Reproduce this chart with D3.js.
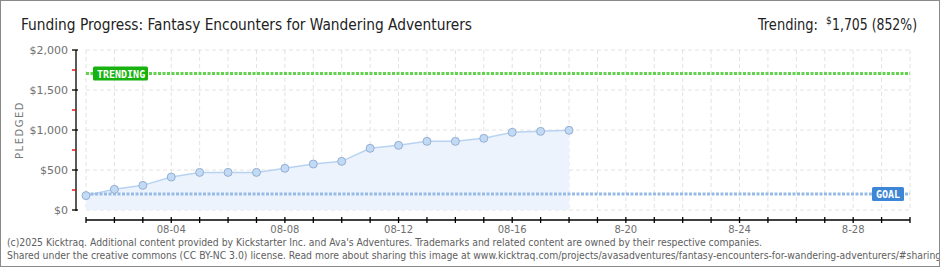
<!DOCTYPE html>
<html>
<head>
<meta charset="utf-8">
<script src="https://cdn.jsdelivr.net/npm/d3@7"></script>
<style>
  body { margin: 0; background: #fff; }
  svg { display: block; }
</style>
</head>
<body>
<div id="chart"></div>
<script>
// Daily pledged totals, 08-01 .. 08-18
const dates = ['2025-08-01', '2025-08-02', '2025-08-03', '2025-08-04', '2025-08-05', '2025-08-06',
    '2025-08-07', '2025-08-08', '2025-08-09', '2025-08-10', '2025-08-11', '2025-08-12',
    '2025-08-13', '2025-08-14', '2025-08-15', '2025-08-16', '2025-08-17', '2025-08-18'];
const pledged = [180, 258, 308, 412, 470, 470, 470, 521, 575, 608, 771, 808, 858, 858, 896, 971, 983, 996];
const goal = 200;
const trending = 1705;
const trendingPct = 852;
const yTicks = [0, 500, 1000, 1500, 2000];
const yMinorTicks = [250, 750, 1250, 1750];
const xLabelDates = ['2025-08-04', '2025-08-08', '2025-08-12', '2025-08-16', '2025-08-20', '2025-08-24', '2025-08-28'];
const xLabels = ['08-04', '08-08', '08-12', '08-16', '8-20', '8-24', '8-28'];
const title = 'Funding Progress: Fantasy Encounters for Wandering Adventurers';
const footer = [
    '(c)2025 Kicktraq. Additional content provided by Kickstarter Inc. and Ava\'s Adventures. Trademarks and related content are owned by their respective companies.',
    'Shared under the creative commons (CC BY-NC 3.0) license. Read more about sharing this image at www.kicktraq.com/projects/avasadventures/fantasy-encounters-for-wandering-adventurers/#sharing'
];

const width = 940, height = 270;
const parse = d3.timeParse('%Y-%m-%d');
const data = dates.map((d, i) => ({ date: parse(d), value: pledged[i] }));

const svg = d3.select('#chart').append('svg')
    .attr('width', width)
    .attr('height', height);

svg.append('clipPath').attr('id', 'frame-clip')
    .append('rect').attr('x', 1).attr('y', 1).attr('width', width - 2).attr('height', 265);

// frame
svg.append('rect')
    .attr('x', 0.5).attr('y', 0.5)
    .attr('width', width - 1).attr('height', 266)
    .attr('fill', '#fff')
    .attr('stroke', '#8a8a8a');

const x = d3.scaleTime()
    .domain([parse('2025-08-01'), parse('2025-08-30')])
    .range([86, 910]);
const y = d3.scaleLinear()
    .domain([0, 2000])
    .range([210, 50]);

const allDays = d3.timeDay.range(parse('2025-08-01'), d3.timeDay.offset(parse('2025-08-30'), 1));

// grid
const grid = svg.append('g').attr('stroke', '#e2e2e2').attr('stroke-dasharray', '4,3');
grid.selectAll('.vg').data(allDays).enter().append('line')
    .attr('x1', d => x(d)).attr('x2', d => x(d))
    .attr('y1', y(2000)).attr('y2', y(0));
grid.selectAll('.hg').data(yTicks).enter().append('line')
    .attr('x1', x.range()[0]).attr('x2', x.range()[1])
    .attr('y1', d => y(d)).attr('y2', d => y(d));

// area + line
svg.append('path')
    .datum(data)
    .attr('fill', '#ecf3fc')
    .attr('d', d3.area().x(d => x(d.date)).y0(y(0)).y1(d => y(d.value)));
svg.append('path')
    .datum(data)
    .attr('fill', 'none')
    .attr('stroke', '#b8d3f1')
    .attr('stroke-width', 1.5)
    .attr('d', d3.line().x(d => x(d.date)).y(d => y(d.value)));

// goal + trending lines
svg.append('line')
    .attr('x1', x.range()[0]).attr('x2', x.range()[1])
    .attr('y1', y(goal)).attr('y2', y(goal))
    .attr('stroke', '#98bbe6').attr('stroke-width', 3)
    .attr('stroke-dasharray', '3,1.5');
svg.append('line')
    .attr('x1', x.range()[0]).attr('x2', x.range()[1])
    .attr('y1', y(trending)).attr('y2', y(trending))
    .attr('stroke', '#62d24f').attr('stroke-width', 3)
    .attr('stroke-dasharray', '3,1.5');

// points
svg.selectAll('.pt').data(data).enter().append('circle')
    .attr('cx', d => x(d.date))
    .attr('cy', d => y(d.value))
    .attr('r', 4)
    .attr('fill', '#c3daf5')
    .attr('stroke', '#93afd3')
    .attr('stroke-width', 1);

// badges
function badge(label, cx, cy, w, fill) {
    svg.append('rect')
        .attr('x', cx).attr('y', cy - 7)
        .attr('width', w).attr('height', 14)
        .attr('rx', 1.5)
        .attr('fill', fill);
    svg.append('text')
        .attr('x', cx + 4).attr('y', cy + 4)
        .attr('fill', '#fff')
        .attr('font-family', 'DejaVu Sans Mono, monospace')
        .attr('font-size', 10)
        .attr('font-weight', 'bold')
        .text(label);
}
badge('TRENDING', 93, y(trending), 55, '#17b20f');
badge('GOAL', 872, y(goal), 32, '#3d86d6');

// y axis
const yAxis = svg.append('g');
yAxis.append('line')
    .attr('x1', 76).attr('x2', 76)
    .attr('y1', y(2000)).attr('y2', y(0) + 1)
    .attr('stroke', '#000').attr('stroke-width', 1.3);
yAxis.selectAll('.yt').data(yTicks).enter().append('line')
    .attr('x1', 72).attr('x2', 78)
    .attr('y1', d => y(d)).attr('y2', d => y(d))
    .attr('stroke', '#000').attr('stroke-width', 1.3);
yAxis.selectAll('.ym').data(yMinorTicks).enter().append('line')
    .attr('x1', 72).attr('x2', 76)
    .attr('y1', d => y(d)).attr('y2', d => y(d))
    .attr('stroke', '#e00000').attr('stroke-width', 1.3);
yAxis.selectAll('.yl').data(yTicks).enter().append('text')
    .attr('x', 68).attr('y', d => y(d) + 4)
    .attr('text-anchor', 'end')
    .attr('fill', '#707070')
    .attr('font-family', 'DejaVu Sans')
    .attr('font-size', 11)
    .text(d => '$' + d3.format(',')(d));
svg.append('text')
    .attr('transform', 'translate(23,130) rotate(-90)')
    .attr('text-anchor', 'middle')
    .attr('fill', '#777')
    .attr('font-family', 'DejaVu Sans')
    .attr('font-size', 10)
    .attr('letter-spacing', 1.5)
    .text('PLEDGED');

// x axis
const xAxis = svg.append('g');
xAxis.append('line')
    .attr('x1', x.range()[0]).attr('x2', x.range()[1])
    .attr('y1', 220).attr('y2', 220)
    .attr('stroke', '#000').attr('stroke-width', 1.3);
xAxis.selectAll('.xt').data(allDays).enter().append('line')
    .attr('x1', d => x(d)).attr('x2', d => x(d))
    .attr('y1', 217).attr('y2', 223)
    .attr('stroke', '#000').attr('stroke-width', 1.3);
xAxis.selectAll('.xl').data(xLabelDates).enter().append('text')
    .attr('x', d => x(parse(d)))
    .attr('y', 233)
    .attr('text-anchor', 'middle')
    .attr('fill', '#707070')
    .attr('font-family', 'DejaVu Sans')
    .attr('font-size', 10)
    .text((d, i) => xLabels[i]);

// title + trending summary
svg.append('text')
    .attr('x', 21).attr('y', 30)
    .attr('fill', '#222')
    .attr('font-family', 'DejaVu Sans Condensed, DejaVu Sans')
    .attr('font-size', 16)
    .attr('textLength', 451)
    .attr('lengthAdjust', 'spacingAndGlyphs')
    .text(title);
svg.append('text')
    .attr('x', 758).attr('y', 30)
    .attr('fill', '#222')
    .attr('font-family', 'DejaVu Sans Condensed, DejaVu Sans')
    .attr('font-size', 16)
    .attr('textLength', 60)
    .attr('lengthAdjust', 'spacingAndGlyphs')
    .text('Trending:');
svg.append('text')
    .attr('x', 826).attr('y', 24)
    .attr('fill', '#222')
    .attr('font-family', 'DejaVu Sans Condensed, DejaVu Sans')
    .attr('font-size', 10)
    .text('$');
svg.append('text')
    .attr('x', 832).attr('y', 30)
    .attr('fill', '#222')
    .attr('font-family', 'DejaVu Sans Condensed, DejaVu Sans')
    .attr('font-size', 16)
    .attr('textLength', 85)
    .attr('lengthAdjust', 'spacingAndGlyphs')
    .text(d3.format(',')(trending) + ' (' + trendingPct + '%)');

// footer
const foot = svg.append('g').attr('clip-path', 'url(#frame-clip)');
const f1 = foot.append('text')
    .attr('x', 7).attr('y', 246)
    .attr('fill', '#606060')
    .attr('font-family', 'DejaVu Sans Condensed, DejaVu Sans')
    .attr('font-size', 10)
    .text(footer[0]);
const f2 = foot.append('text')
    .attr('x', 7).attr('y', 259)
    .attr('fill', '#606060')
    .attr('font-family', 'DejaVu Sans Condensed, DejaVu Sans')
    .attr('font-size', 10)
    .text(footer[1]);
const s = 755 / f1.node().getComputedTextLength();
f1.attr('textLength', 755).attr('lengthAdjust', 'spacingAndGlyphs');
f2.attr('textLength', f2.node().getComputedTextLength() * s).attr('lengthAdjust', 'spacingAndGlyphs');
</script>
</body>
</html>
